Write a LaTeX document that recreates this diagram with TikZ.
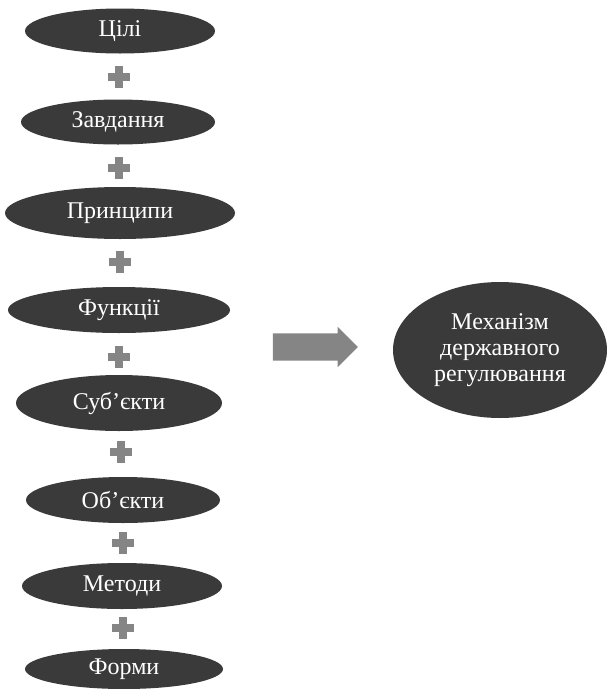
\documentclass[tikz,border=0pt]{standalone}
\usepackage{fontspec}
\setmainfont{Liberation Serif}
\usetikzlibrary{shapes.geometric,shapes.arrows,calc}
\definecolor{ovalgray}{HTML}{3A3A3A}
\definecolor{plusgray}{HTML}{858585}
\begin{document}
\begin{tikzpicture}[
  x=1pt, y=-1pt,
  every node/.style={font=\fontsize{24}{26}\selectfont},
  oval/.style={ellipse, fill=ovalgray, text=white, inner sep=0pt},
  bigarrow/.style={single arrow, fill=plusgray, inner sep=13.5pt,
    single arrow head extend=6.5pt, minimum height=85pt},
  plus/.pic={
    \fill[plusgray] (-11,-4) rectangle (11,4);
    \fill[plusgray] (-4,-11) rectangle (4,11);
  }
]
\useasboundingbox (0,0) rectangle (607,689);
% components
\node[oval, minimum width=190pt, minimum height=45pt] (c1) at (120,31) {Цілі};
\node[oval, minimum width=194pt, minimum height=45pt] (c2) at (118,122) {Завдання};
\node[oval, minimum width=230pt, minimum height=52pt] (c3) at (120,213) {Принципи};
\node[oval, minimum width=222pt, minimum height=46pt] (c4) at (119,310) {Функції};
\node[oval, minimum width=206pt, minimum height=56pt] (c5) at (119,403) {Суб’єкти};
\node[oval, minimum width=194pt, minimum height=46pt] (c6) at (123,500) {Об’єкти};
\node[oval, minimum width=200pt, minimum height=46pt] (c7) at (122,586) {Методи};
\node[oval, minimum width=198pt, minimum height=40pt] (c8) at (124,669) {Форми};
\foreach \a/\b in {c1/c2,c2/c3,c3/c4,c4/c5,c5/c6,c6/c7,c7/c8}
  \pic at ($(\a)!0.5!(\b)$) {plus};
% result
\node[bigarrow] (arr) at (308.5,347) {};
\node[oval, minimum width=214pt, minimum height=136pt, align=center] (mech) at (500,350)
  {Механізм\\державного\\регулювання};
\end{tikzpicture}
\end{document}
